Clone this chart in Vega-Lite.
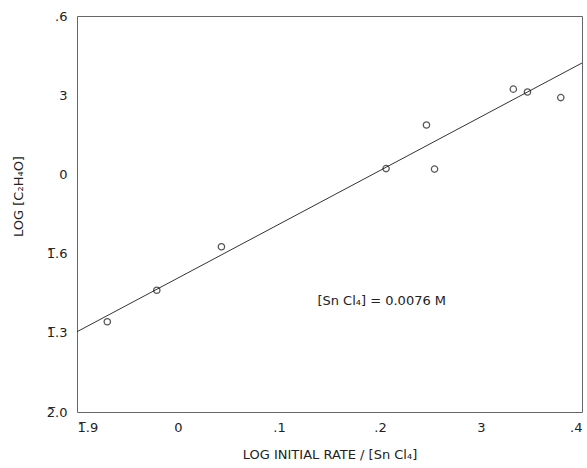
{
  "$schema": "https://vega.github.io/schema/vega-lite/v6.json",
  "width": 505,
  "height": 396,
  "autosize": {"type": "none"},
  "padding": {"left": 77, "top": 16, "right": 5, "bottom": 56},
  "background": "white",
  "datasets": {
    "runs": [
      {"rate": -0.070, "conc": -0.558},
      {"rate": -0.021, "conc": -0.439},
      {"rate": 0.043, "conc": -0.274},
      {"rate": 0.206, "conc": 0.022},
      {"rate": 0.246, "conc": 0.187},
      {"rate": 0.254, "conc": 0.020},
      {"rate": 0.332, "conc": 0.323},
      {"rate": 0.346, "conc": 0.312},
      {"rate": 0.379, "conc": 0.291}
    ],
    "fit": [
      {"rate": -0.1, "conc": -0.596},
      {"rate": 0.4, "conc": 0.422}
    ],
    "note": [
      {"rate": 0.138, "conc": -0.48, "label": "[Sn Cl₄] = 0.0076 M"}
    ]
  },
  "encoding": {
    "x": {
      "field": "rate",
      "type": "quantitative",
      "scale": {"domain": [-0.1, 0.4], "nice": false, "zero": false},
      "title": "LOG  INITIAL  RATE / [Sn Cl₄]",
      "axis": {
        "values": [-0.1, 0, 0.1, 0.2, 0.3, 0.4],
        "labelExpr": "['1̅.9', '0', '.1', '.2', '3', '.4'][round(datum.value * 10) + 1]",
        "labelPadding": 9,
        "titlePadding": 14
      }
    },
    "y": {
      "field": "conc",
      "type": "quantitative",
      "scale": {"domain": [-0.9, 0.6], "nice": false, "zero": false},
      "title": "LOG  [C₂H₄O]",
      "axis": {
        "values": [-0.9, -0.6, -0.3, 0, 0.3, 0.6],
        "labelExpr": "['2̅.0', '1̅.3', '1̅.6', '0', '3', '.6'][round(datum.value * 10 / 3) + 3]",
        "labelPadding": 10,
        "titleX": -52,
        "titleY": 180
      }
    }
  },
  "layer": [
    {
      "data": {"name": "fit"},
      "mark": {"type": "line", "color": "#333", "strokeWidth": 1}
    },
    {
      "data": {"name": "runs"},
      "mark": {"type": "point", "shape": "circle", "filled": false, "color": "#111", "strokeWidth": 1.3, "size": 40}
    },
    {
      "data": {"name": "note"},
      "mark": {"type": "text", "align": "left", "baseline": "middle", "font": "DejaVu Sans", "fontSize": 13, "color": "#222"},
      "encoding": {"text": {"field": "label"}}
    }
  ],
  "config": {
    "view": {"stroke": "#666", "strokeWidth": 1},
    "axis": {
      "grid": false,
      "domain": false,
      "ticks": false,
      "labelFont": "DejaVu Sans",
      "labelFontSize": 13,
      "labelColor": "#222",
      "titleFont": "DejaVu Sans",
      "titleFontSize": 13,
      "titleFontWeight": "normal",
      "titleColor": "#222"
    }
  }
}
